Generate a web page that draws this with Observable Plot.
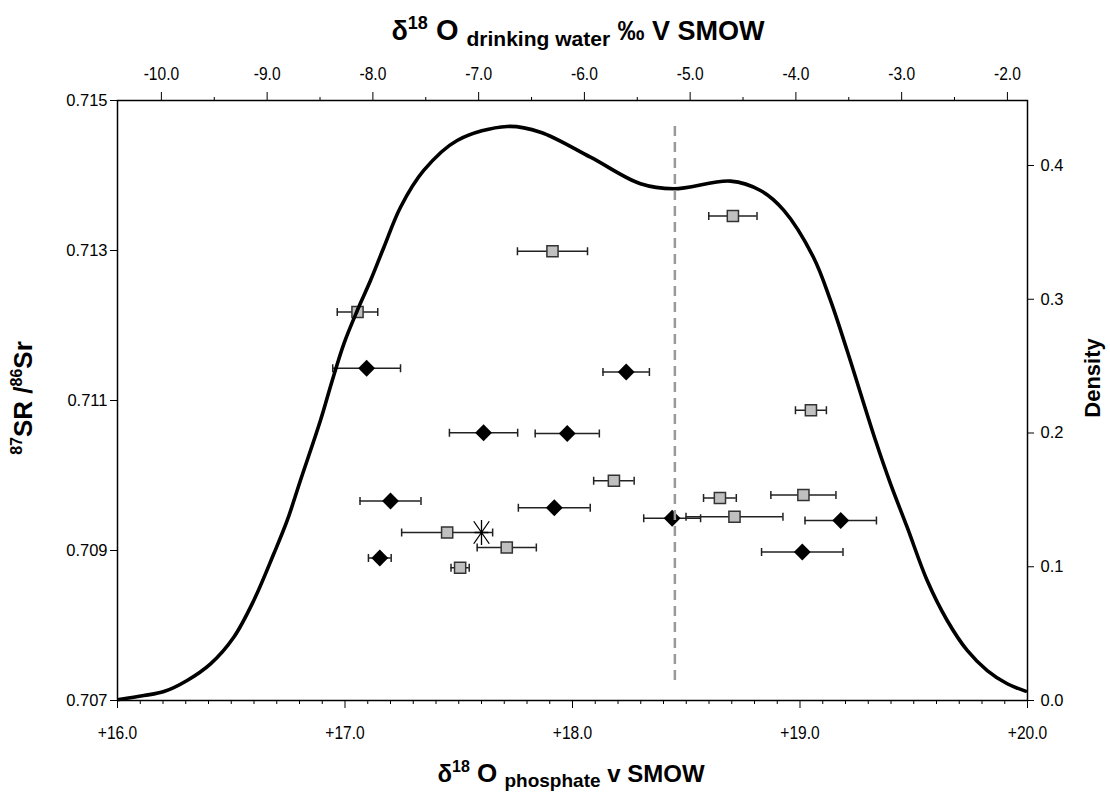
<!DOCTYPE html>
<html>
<head>
<meta charset="utf-8">
<script src="https://cdn.jsdelivr.net/npm/d3@7"></script>
<script src="https://cdn.jsdelivr.net/npm/@observablehq/plot@0.6"></script>
<style>
  html, body { margin: 0; padding: 0; background: #fff; }
  #chart { width: 1110px; height: 796px; }
</style>
</head>
<body>
<div id="chart"></div>
<script>
// ---------- data ----------
// grey squares: δ18O phosphate, 87Sr/86Sr, ± error
const squareX   = [18.705, 17.912, 17.055, 19.048, 18.182, 18.648, 19.015, 18.712, 17.449, 17.711, 17.506];
const squareY   = [0.71346, 0.71299, 0.71218, 0.71087, 0.70993, 0.70970, 0.70974, 0.70945, 0.70924, 0.70904, 0.70877];
const squareErr = [0.106, 0.154, 0.089, 0.068, 0.089, 0.072, 0.143, 0.213, 0.200, 0.130, 0.040];

// black diamonds
const diamondX   = [17.095, 18.236, 17.609, 17.977, 17.200, 17.920, 18.438, 19.179, 19.010, 17.153];
const diamondY   = [0.71143, 0.71138, 0.71057, 0.71056, 0.70966, 0.70957, 0.70943, 0.70940, 0.70898, 0.70890];
const diamondErr = [0.149, 0.102, 0.150, 0.141, 0.134, 0.158, 0.125, 0.157, 0.179, 0.050];

// asterisk point
const starX = [17.600];
const starY = [0.70924];

// density curve (δ18O phosphate, density)
const densityX = [16.006, 16.116, 16.204, 16.306, 16.409, 16.511, 16.599, 16.687, 16.746, 16.804,
                  16.892, 16.944, 16.995, 17.054, 17.112, 17.171, 17.244, 17.346, 17.493, 17.713,
                  17.859, 18.079, 18.299, 18.445, 18.695, 18.826, 18.929, 19.059, 19.134, 19.207,
                  19.332, 19.398, 19.471, 19.559, 19.647, 19.735, 19.823, 19.911, 19.991];
const densityV = [0.0007, 0.0037, 0.0067, 0.0150, 0.0274, 0.0473, 0.0748, 0.1097, 0.1346, 0.1645,
                  0.2093, 0.2393, 0.2667, 0.2916, 0.3140, 0.3389, 0.3688, 0.3963, 0.4187, 0.4292,
                  0.4249, 0.4062, 0.3863, 0.3826, 0.3883, 0.3813, 0.3664, 0.3314, 0.2991, 0.2617,
                  0.1944, 0.1620, 0.1296, 0.0897, 0.0598, 0.0374, 0.0224, 0.0125, 0.0070];

// dashed reference line
const dashX = 18.45;
const dashDensity = [0.015, 0.431];

// axes
const xDomain = [16, 20];
const xTicks = [16, 17, 18, 19, 20];
const yDomain = [0.707, 0.715];
const yTicks = [0.707, 0.709, 0.711, 0.713, 0.715];
const densityDomain = [0, 0.4486];
const densityTicks = [0, 0.1, 0.2, 0.3, 0.4];
const topDomain = [-10.415, -1.81];
const topTicks = [-10, -9, -8, -7, -6, -5, -4, -3, -2];
const topMinorTicks = [-9.5, -8.5, -7.5, -6.5, -5.5, -4.5, -3.5, -2.5];

// ---------- helpers (map secondary scales onto primary ones) ----------
const dToY = d => yDomain[0] + (d - densityDomain[0]) / (densityDomain[1] - densityDomain[0]) * (yDomain[1] - yDomain[0]);
const yToD = y => densityDomain[0] + (y - yDomain[0]) / (yDomain[1] - yDomain[0]) * (densityDomain[1] - densityDomain[0]);
const tToX = t => xDomain[0] + (t - topDomain[0]) / (topDomain[1] - topDomain[0]) * (xDomain[1] - xDomain[0]);
const xToT = x => topDomain[0] + (x - xDomain[0]) / (xDomain[1] - xDomain[0]) * (topDomain[1] - topDomain[0]);

const squares = squareX.map((x, i) => ({x, y: squareY[i], lo: x - squareErr[i], hi: x + squareErr[i]}));
const diamonds = diamondX.map((x, i) => ({x, y: diamondY[i], lo: x - diamondErr[i], hi: x + diamondErr[i]}));
const stars = starX.map((x, i) => ({x, y: starY[i]}));
const curve = densityX.map((x, i) => ({x, y: dToY(densityV[i])}));
const bars = [...squares, ...diamonds];

const xMinor = d3.range(160, 201).map(v => v / 10).filter(v => !xTicks.includes(v));

// custom symbols
const vbar = { draw(ctx, size) { const h = Math.sqrt(size / Math.PI); ctx.moveTo(0, -h); ctx.lineTo(0, h); } };
const starSym = { draw(ctx, size) {
  const h = Math.sqrt(size / Math.PI);
  ctx.moveTo(0, -h); ctx.lineTo(0, h);
  ctx.moveTo(-0.62 * h, -0.9 * h); ctx.lineTo(0.62 * h, 0.9 * h);
  ctx.moveTo(0.62 * h, -0.9 * h); ctx.lineTo(-0.62 * h, 0.9 * h);
  ctx.moveTo(-0.55 * h, 0); ctx.lineTo(0.55 * h, 0);
} };

const FONT = "'Liberation Sans', Arial, Helvetica, sans-serif";

const svg = Plot.plot({
  width: 1110,
  height: 796,
  marginTop: 100,
  marginRight: 83,
  marginBottom: 96,
  marginLeft: 117,
  style: { fontFamily: FONT, fontSize: "16px", color: "#000", background: "#fff" },
  x: { domain: xDomain, label: null },
  y: { domain: yDomain, label: null },
  marks: [
    // error bars
    Plot.ruleY(bars, { x1: "lo", x2: "hi", y: "y", stroke: "#222", strokeWidth: 1.5 }),
    Plot.dot(bars, { x: "lo", y: "y", symbol: vbar, r: 4, fill: "none", stroke: "#222", strokeWidth: 1.5 }),
    Plot.dot(bars, { x: "hi", y: "y", symbol: vbar, r: 4, fill: "none", stroke: "#222", strokeWidth: 1.5 }),
    // markers
    Plot.dot(squares, { x: "x", y: "y", symbol: "square", r: 6.3, fill: "#c0c0c0", stroke: "#333", strokeWidth: 1.5 }),
    Plot.dot(diamonds, { x: "x", y: "y", symbol: "diamond2", r: 7.6, fill: "#000", stroke: "none" }),
    Plot.dot(stars, { x: "x", y: "y", symbol: starSym, r: 12.5, fill: "none", stroke: "#000", strokeWidth: 1.3 }),
    // density curve
    Plot.line(curve, { x: "x", y: "y", curve: "catmull-rom", stroke: "#000", strokeWidth: 3.6 }),
    // dashed line
    Plot.ruleX([dashX], { x: d => d, y1: dToY(dashDensity[0]), y2: dToY(dashDensity[1]), stroke: "#999", strokeWidth: 2.5, strokeDasharray: "10,6" }),
    // frame
    Plot.frame({ stroke: "#000", strokeWidth: 1.5 }),
    // bottom axis
    Plot.axisX(xTicks, { anchor: "bottom", tickSize: 8, tickPadding: 17, tickFormat: d => "+" + d.toFixed(1), label: null }),
    Plot.axisX(xMinor, { anchor: "bottom", tickSize: 4, tickFormat: () => "", label: null }),
    // top axis
    Plot.axisX(topTicks.map(tToX), { anchor: "top", tickSize: 9, tickPadding: 12, tickFormat: d => xToT(d).toFixed(1), label: null }),
    Plot.axisX(topMinorTicks.map(tToX), { anchor: "top", tickSize: 4, tickFormat: () => "", label: null }),
    // left axis
    Plot.axisY(yTicks, { anchor: "left", tickSize: 7, tickPadding: 3, tickFormat: d3.format(".3f"), label: null }),
    // right axis (density)
    Plot.axisY(densityTicks.map(dToY), { anchor: "right", tickSize: 6, tickPadding: 7, tickFormat: d => yToD(d).toFixed(1), label: null })
  ]
});

document.getElementById("chart").appendChild(svg);

const s = d3.select(svg);

// larger, condensed look for the top and bottom tick labels
s.selectAll('g[aria-label="x-axis tick label"]').style("font-size", "19px");
s.selectAll('g[aria-label="y-axis tick label"]').style("font-size", "16.5px");
s.selectAll('g[aria-label="x-axis tick label"] text').each(function () {
  const el = d3.select(this);
  const tr = el.attr("transform");
  if (tr) el.attr("transform", tr + " scale(0.82,1)");
  else {
    const x = +el.attr("x") || 0, y = +el.attr("y") || 0;
    el.attr("x", null).attr("y", null).attr("transform", `translate(${x},${y}) scale(0.82,1)`);
  }
});

// ---------- axis titles with sub/superscripts ----------
function richText(x, y, parts, rotate) {
  const t = s.append("text")
    .attr("text-anchor", "middle")
    .attr("font-family", FONT)
    .attr("font-weight", "bold")
    .attr("fill", "#000")
    .attr("transform", `translate(${x},${y})` + (rotate ? ` rotate(${rotate})` : ""));
  let shift = 0;
  for (const p of parts) {
    const target = p.dy || 0;
    t.append("tspan")
      .attr("font-size", p.size)
      .attr("dy", target - shift)
      .text(p.text);
    shift = target;
  }
  return t;
}

richText(578, 40, [
  { text: "δ", size: 27 },
  { text: "18", size: 18, dy: -11 },
  { text: " O ", size: 29 },
  { text: "drinking water", size: 21, dy: 6 },
  { text: " ‰ V SMOW", size: 27 }
]);

richText(571, 782, [
  { text: "δ", size: 24 },
  { text: "18", size: 16, dy: -10 },
  { text: " O ", size: 26 },
  { text: "phosphate", size: 19, dy: 5 },
  { text: " v SMOW", size: 24 }
]);

richText(32, 398, [
  { text: "87", size: 16, dy: -10 },
  { text: "SR /", size: 26 },
  { text: "86", size: 16, dy: -10 },
  { text: "Sr", size: 26 }
], -90);

richText(1100, 378, [
  { text: "Density", size: 22 }
], -90);
</script>
</body>
</html>
